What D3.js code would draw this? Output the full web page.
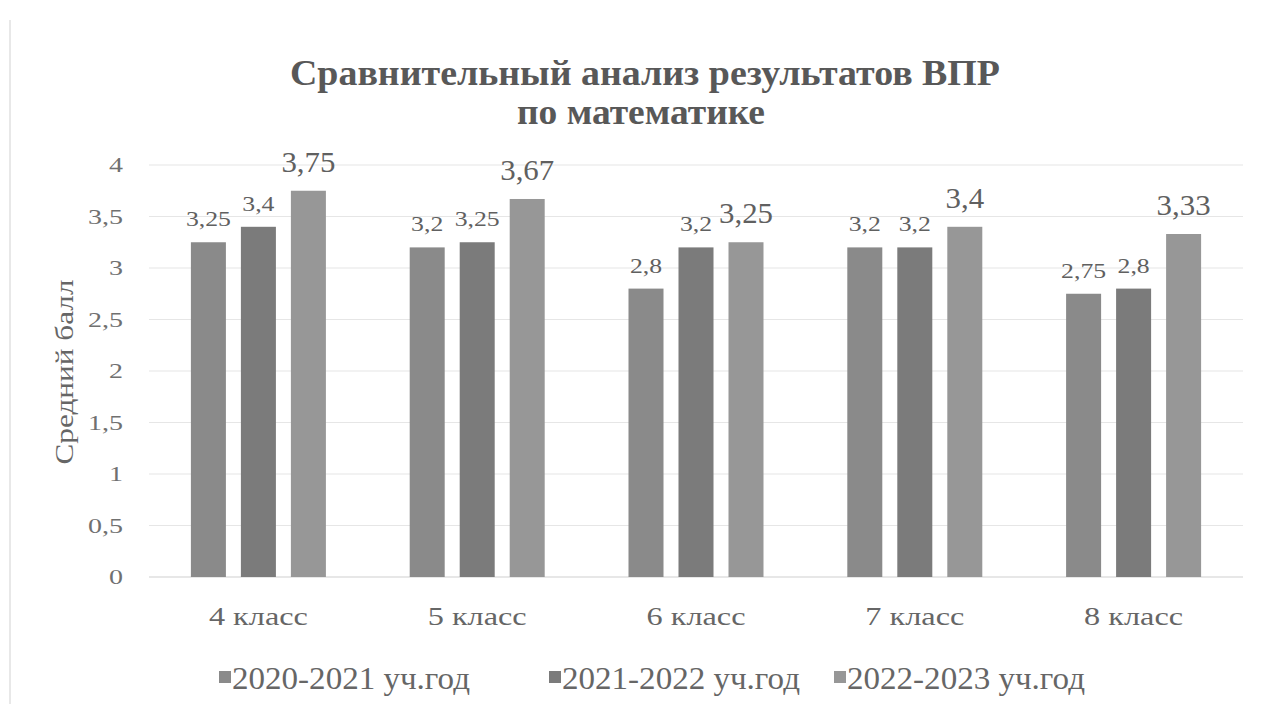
<!DOCTYPE html>
<html><head><meta charset="utf-8">
<script src="https://cdn.jsdelivr.net/npm/d3@7"></script>
<style>body{margin:0;background:#fff;}svg{display:block;}</style>
</head><body>
<svg id="c" width="1263" height="704"></svg>
<script>
const categories = ["4 класс","5 класс","6 класс","7 класс","8 класс"];
const seriesNames = ["2020-2021 уч.год","2021-2022 уч.год","2022-2023 уч.год"];
const s2020 = [3.25, 3.2, 2.8, 3.2, 2.75];
const s2021 = [3.4, 3.25, 3.2, 3.2, 2.8];
const s2022 = [3.75, 3.67, 3.25, 3.4, 3.33];
const yTicks = [0,0.5,1,1.5,2,2.5,3,3.5,4];
const title = ["Сравнительный анализ результатов ВПР","по математике"];
const yLabel = "Средний балл";

const seriesValues = [s2020, s2021, s2022];
const colors = ["#8a8a8a","#7b7b7b","#979797"];
const fmt = v => String(v).replace(".", ",");
const FONT = '"Liberation Serif"';

const svg = d3.select("#c");

function T(parent){ return parent.append("text").style("font-family", FONT); }

// horizontal stretch helper (the reference text is widened)
function stretch(sel, factor){
  sel.each(function(){
    const w = this.getComputedTextLength();
    d3.select(this).attr("textLength", w*factor).attr("lengthAdjust","spacingAndGlyphs");
  });
}
function fitTo(sel, sampleText, size, weight, target){
  const t = T(svg).attr("font-size",size).attr("font-weight",weight||"normal").text(sampleText);
  const f = target / t.node().getComputedTextLength();
  t.remove();
  stretch(sel, f);
}

svg.append("line").attr("x1",10).attr("x2",10).attr("y1",20).attr("y2",704)
  .attr("stroke","#e0e0e0").attr("stroke-width",1.5);

const m = {left:149, right:1243, top:165, bottom:577};
const x = d3.scaleBand().domain(categories).range([m.left, m.right]);
const y = d3.scaleLinear().domain([0,4]).range([m.bottom, m.top]);
const groupW = 135;
const xs = d3.scaleBand().domain([0,1,2]).range([0, groupW]).paddingInner(0.3);

// gridlines
svg.append("g").selectAll("line").data(yTicks).join("line")
  .attr("x1", m.left).attr("x2", m.right)
  .attr("y1", d=>y(d)).attr("y2", d=>y(d))
  .attr("stroke", d=> d===0 ? "#cfcfcf" : "#e6e6e6").attr("stroke-width",1.2);

// y tick labels
const yt = svg.append("g").selectAll("text").data(yTicks).join("text")
  .style("font-family", FONT)
  .attr("x", 123).attr("y", d=>y(d)).attr("dy","0.33em")
  .attr("text-anchor","end").attr("font-size",22)
  .attr("fill","#707070").text(d=>fmt(d));
fitTo(yt, "3,5", 22, "normal", 35);

// bars
const groups = svg.append("g").selectAll("g").data(categories).join("g")
  .attr("transform", c => `translate(${x(c) + (x.bandwidth()-groupW)/2},0)`);
const smallLabels = [], bigLabels = [];
groups.each(function(c, ci){
  const g = d3.select(this);
  seriesValues.forEach((vals, si) => {
    g.append("rect").attr("x", xs(si)).attr("width", xs.bandwidth())
      .attr("y", y(vals[ci])).attr("height", y(0)-y(vals[ci]))
      .attr("fill", colors[si]);
    const t = T(g).attr("x", xs(si)+xs.bandwidth()/2).attr("y", y(vals[ci]) - (si===2 ? 19 : 16))
      .attr("text-anchor","middle").attr("font-size", si===2 ? 30 : 22)
      .attr("fill","#606060").text(fmt(vals[ci]));
    (si===2 ? bigLabels : smallLabels).push(t.node());
  });
});
fitTo(d3.selectAll(smallLabels), "3,25", 22, "normal", 45);
fitTo(d3.selectAll(bigLabels), "3,75", 30, "normal", 54);

// x labels
const xl = svg.append("g").selectAll("text").data(categories).join("text")
  .style("font-family", FONT)
  .attr("x", c=>x(c)+x.bandwidth()/2).attr("y", 625)
  .attr("text-anchor","middle").attr("font-size",25)
  .attr("fill","#666").text(d=>d);
fitTo(xl, "4 класс", 25, "normal", 99);

// title
const t1 = T(svg).attr("x",645).attr("y",85).attr("text-anchor","middle")
  .attr("font-size",35).attr("font-weight","bold")
  .attr("fill","#585858").text(title[0]);
fitTo(t1, title[0], 35, "bold", 710);
const t2 = T(svg).attr("x",641).attr("y",124).attr("text-anchor","middle")
  .attr("font-size",35).attr("font-weight","bold")
  .attr("fill","#585858").text(title[1]);
fitTo(t2, title[1], 35, "bold", 248);

// y label
const yl = T(svg).attr("transform","translate(73,372) rotate(-90)")
  .attr("text-anchor","middle").attr("font-size",26)
  .attr("fill","#666").text(yLabel);
fitTo(yl, yLabel, 26, "normal", 185);

// legend
const legX = [219, 549, 834];
const leg = svg.append("g").selectAll("g").data(seriesNames).join("g")
  .attr("transform",(d,i)=>`translate(${legX[i]},678)`);
leg.append("rect").attr("x",0).attr("y",-7).attr("width",12).attr("height",12)
  .attr("fill",(d,i)=>colors[i]);
const lt = leg.append("text").style("font-family", FONT).attr("x",13).attr("y",0).attr("dy","0.35em")
  .attr("font-size",31).attr("fill","#666").text(d=>d);
fitTo(lt, seriesNames[0], 31, "normal", 238);
</script>
</body></html>
